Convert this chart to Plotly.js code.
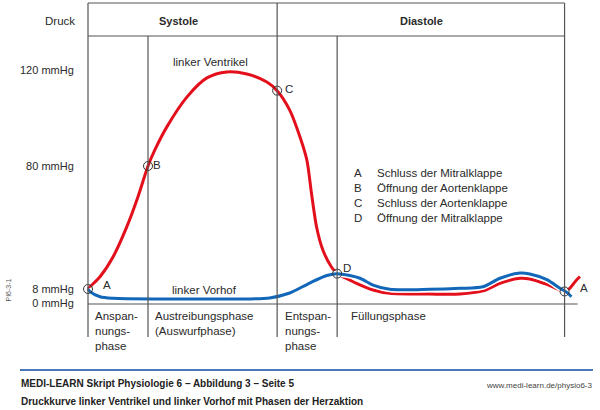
<!DOCTYPE html>
<html>
<head>
<meta charset="utf-8">
<script src="https://cdn.plot.ly/plotly-3.0.1.min.js"></script>
<style>html,body{margin:0;padding:0;background:#fff;}#chart{width:600px;height:410px;}</style>
</head>
<body>
<div id="chart"></div>
<script>
// ---- data (time in ms from mitral valve closure, pressure in mmHg) ----
const phaseT = [0, 105, 331, 436, 834];
const phaseNames = ['Anspan-<br>nungs-<br>phase', 'Austreibungsphase<br>(Auswurfphase)', 'Entspan-<br>nungs-<br>phase', 'Füllungsphase'];
const cycleNames = ['Systole', 'Diastole'];
const tickMmHg = [0, 8, 80, 120];
const tickText = ['0 mmHg', '8 mmHg', '80 mmHg', '120 mmHg'];

const lvT = [0, 3.5, 21, 44, 68, 87.5, 105, 117, 138, 173, 208, 243, 278, 313, 331, 353, 371, 383, 391, 400, 411, 426, 436, 458, 470, 499, 528, 598, 651, 691, 721, 756, 773, 803, 826, 834, 843, 855, 861];
const lvP = [8.0, 9.3, 15.2, 26.9, 44.5, 62.0, 80, 86.7, 96.3, 108.7, 116.7, 119.2, 118.3, 115, 111.4, 103.3, 92.1, 82.5, 64.2, 44.3, 30.8, 20.9, 17, 13.3, 11.3, 7.4, 5.5, 5.1, 5.1, 6.9, 11.3, 14.3, 13.9, 10.7, 7.4, 6.6, 8.4, 13.3, 15.2];

const laT = [0, 3.5, 21, 44, 126, 196, 318, 353, 388, 418, 436, 458, 476, 499, 528, 598, 651, 691, 721, 756, 773, 803, 826, 838, 846];
const laP = [8.0, 6.5, 3.6, 2.7, 2.3, 2.3, 2.9, 5.7, 11.5, 15.9, 17.0, 15.9, 14.3, 10.3, 7.8, 7.8, 8.4, 9.3, 14.3, 17.3, 16.8, 13.5, 8.4, 6.1, 3.6];

const valveLetters = ['A', 'B', 'C', 'D', 'A'];
const valveT = [0, 105, 331, 436, 834];
const valveP = [8, 80, 111.4, 17, 6.6];

const legendLetters = ['A', 'B', 'C', 'D'];
const legendTexts = ['Schluss der Mitralklappe', 'Öffnung der Aortenklappe', 'Schluss der Aortenklappe', 'Öffnung der Mitralklappe'];

// ---- schematic (non-linear) pressure scale of the drawing ----
const knotP = [0, 8, 80, 120];
const knotU = [1, 15, 138, 234];
function diag(p) {
  let i = 0;
  while (i < knotP.length - 2 && p > knotP[i + 1]) i++;
  const s = (knotU[i + 1] - knotU[i]) / (knotP[i + 1] - knotP[i]);
  return knotU[i] + (p - knotP[i]) * s;
}

// ---- layout helpers (pixel -> paper) ----
const ML = 80, W = 600, H = 410;
const PX = x => (x - ML) / (W - ML);
const PY = y => (H - y) / H;
const FONT = 'Liberation Sans, Arial, sans-serif';
const TXT = '#2a2a2a';
const GRID = '#555555';
const RED = '#e3101c';
const BLUE = '#1267b8';

const BOX_TOP = 301, HEAD = 268, BASE = 0, LINE_BOT = -33;

const traces = [
  {x: lvT, y: lvP.map(diag), mode: 'lines', line: {color: '#ffffff', width: 6, shape: 'spline', smoothing: 0.8}, hoverinfo: 'skip'},
  {x: lvT, y: lvP.map(diag), mode: 'lines', line: {color: RED, width: 3, shape: 'spline', smoothing: 0.8}, name: 'linker Ventrikel'},
  {x: laT, y: laP.map(diag), mode: 'lines', line: {color: '#ffffff', width: 6, shape: 'spline', smoothing: 0.8}, hoverinfo: 'skip'},
  {x: laT, y: laP.map(diag), mode: 'lines', line: {color: BLUE, width: 3, shape: 'spline', smoothing: 0.8}, name: 'linker Vorhof'},
  {x: valveT, y: valveP.map(diag), mode: 'markers', marker: {symbol: 'circle-open', size: 9, color: '#333', line: {width: 1, color: '#333'}}, cliponaxis: false}
];

const shapes = [];
const line = (x0, y0, x1, y1) => shapes.push({type: 'line', xref: 'x', yref: 'y', x0, y0, x1, y1, line: {color: GRID, width: 1.2}});
const first = phaseT[0], last = phaseT[phaseT.length - 1];
line(first, BOX_TOP, last, BOX_TOP);
line(first, HEAD, last, HEAD);
line(first, BASE, 857, BASE);
line(first, BOX_TOP, first, LINE_BOT);
line(last, BOX_TOP, last, LINE_BOT);
line(phaseT[2], BOX_TOP, phaseT[2], LINE_BOT);
line(phaseT[1], HEAD, phaseT[1], LINE_BOT);
line(phaseT[3], HEAD, phaseT[3], LINE_BOT);
shapes.push({type: 'line', xref: 'paper', yref: 'paper', x0: PX(20), x1: PX(593), y0: PY(370), y1: PY(370), line: {color: '#4a78b8', width: 2}});

const ann = [];
const f = (size, bold, color) => ({family: FONT, size, color: color || TXT, weight: bold ? 'bold' : 'normal'});
ann.push({xref: 'paper', yref: 'paper', x: PX(77), y: PY(21), xanchor: 'right', yanchor: 'middle', text: 'Druck', showarrow: false, font: f(11.5)});
ann.push({xref: 'paper', yref: 'paper', x: PX(178.5), y: PY(21), xanchor: 'center', yanchor: 'middle', text: '<b>' + cycleNames[0] + '</b>', showarrow: false, font: f(11, true)});
ann.push({xref: 'paper', yref: 'paper', x: PX(421), y: PY(21), xanchor: 'center', yanchor: 'middle', text: '<b>' + cycleNames[1] + '</b>', showarrow: false, font: f(11, true)});
ann.push({xref: 'paper', yref: 'paper', x: PX(210), y: PY(62), xanchor: 'center', yanchor: 'middle', text: 'linker Ventrikel', showarrow: false, font: f(11.5)});
ann.push({xref: 'paper', yref: 'paper', x: PX(204.5), y: PY(289.5), xanchor: 'center', yanchor: 'middle', text: 'linker Vorhof', showarrow: false, font: f(11.5)});

const letterShift = [[19, 4], [9, 1], [12, 2], [10, 6], [19, 3]];
valveLetters.forEach((l, i) => ann.push({xref: 'x', yref: 'y', x: valveT[i], y: diag(valveP[i]), xshift: letterShift[i][0], yshift: letterShift[i][1], text: l, showarrow: false, font: f(11.5)}));

const phaseShift = [5, 5, 6, 12];
phaseNames.forEach((n, i) => ann.push({xref: 'x', yref: 'paper', x: phaseT[i], xshift: phaseShift[i], y: PY(308), xanchor: 'left', yanchor: 'top', align: 'left', text: n, showarrow: false, font: f(11.5)}));

ann.push({xref: 'paper', yref: 'paper', x: PX(352), y: PY(165), xanchor: 'left', yanchor: 'top', align: 'left', text: legendLetters.join('<br>'), showarrow: false, font: f(11.5)});
ann.push({xref: 'paper', yref: 'paper', x: PX(374.5), y: PY(165), xanchor: 'left', yanchor: 'top', align: 'left', text: legendTexts.join('<br>'), showarrow: false, font: f(11.5)});

ann.push({xref: 'paper', yref: 'paper', x: PX(7.5), y: PY(290), xanchor: 'center', yanchor: 'middle', textangle: -90, text: 'PI6-3-1', showarrow: false, font: f(7, false, '#555')});
ann.push({xref: 'paper', yref: 'paper', x: PX(19), y: PY(383.5), xanchor: 'left', yanchor: 'middle', text: '<b>MEDI-LEARN Skript Physiologie 6 – Abbildung 3 – Seite 5</b>', showarrow: false, font: f(10, true, '#222')});
ann.push({xref: 'paper', yref: 'paper', x: PX(594), y: PY(385), xanchor: 'right', yanchor: 'middle', text: 'www.medi-learn.de/physio6-3', showarrow: false, font: f(8, false, '#444')});
ann.push({xref: 'paper', yref: 'paper', x: PX(19), y: PY(401), xanchor: 'left', yanchor: 'middle', text: '<b>Druckkurve linker Ventrikel und linker Vorhof mit Phasen der Herzaktion</b>', showarrow: false, font: f(10, true, '#222')});

const layout = {
  width: W, height: H,
  margin: {l: ML, r: 0, t: 0, b: 0, pad: 0},
  paper_bgcolor: '#fff', plot_bgcolor: '#fff',
  showlegend: false,
  xaxis: {range: [-14, 896], visible: false, fixedrange: true},
  yaxis: {range: [-106, 304], showgrid: false, zeroline: false, showline: false,
    tickvals: tickMmHg.map(diag), ticktext: tickText, ticks: 'outside', ticklen: 3, tickcolor: 'rgba(0,0,0,0)',
    tickfont: {family: FONT, size: 11, color: TXT}, fixedrange: true},
  shapes: shapes,
  annotations: ann,
  font: {family: FONT}
};

Plotly.newPlot('chart', traces, layout, {staticPlot: true, displayModeBar: false});
</script>
</body>
</html>
